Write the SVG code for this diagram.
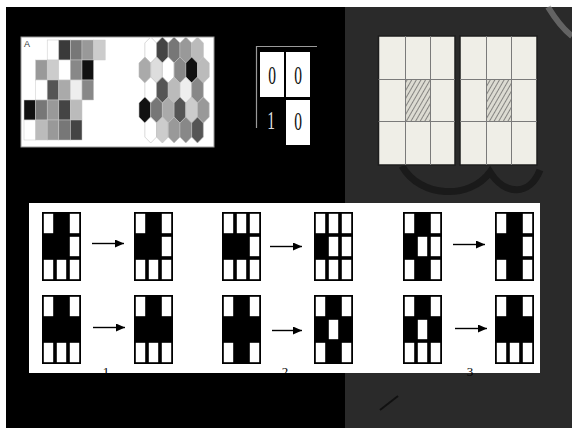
<svg xmlns="http://www.w3.org/2000/svg" xmlns:xlink="http://www.w3.org/1999/xlink" width="572" height="428" viewBox="0 0 572 428">
<style>
.sq{stroke:#c8c8c8;stroke-width:0.5}
.hx{stroke:#bdbdbd;stroke-width:0.6}
.dig{font-family:"Liberation Serif",serif;font-size:25px;text-anchor:middle}
.lbl{font-family:"Liberation Serif",serif;font-size:13px;text-anchor:middle;fill:#000}
.gl{stroke:#7a7a7a;stroke-width:1;fill:none}
.arr{stroke:#000;stroke-width:1.4;fill:none}
</style>
<defs>
<rect id="wc" width="9.4" height="19.4" fill="#fff"/>
<rect id="frame" width="39" height="69" fill="#000"/>
<polygon id="hex" points="0,-13 5.85,-7 5.85,7 0,13 -5.85,7 -5.85,-7"/>
<pattern id="hatch" width="4" height="4" patternUnits="userSpaceOnUse" patternTransform="rotate(30)">
<rect width="4" height="4" fill="#dcdbd2"/>
<line x1="0" y1="0" x2="0" y2="4" stroke="#555" stroke-width="1.3"/>
</pattern>
<marker id="ah" markerUnits="userSpaceOnUse" markerWidth="9" markerHeight="8" refX="9" refY="4" orient="auto">
<path d="M0,0 L9,4 L0,8 Z" fill="#000"/>
</marker>
</defs>

<!-- background -->
<rect x="0" y="0" width="572" height="428" fill="#fff"/>
<rect x="6" y="7" width="339" height="421" fill="#000"/>
<rect x="345" y="7" width="227" height="421" fill="#2a2a2a"/>
<g id="watermark" fill="none">
<path d="M548,7 C556,20 564,30 572,36" stroke="#8a8a8a" stroke-width="6" opacity="0.6"/>
<path d="M402,166 C420,198 470,200 490,172 C505,196 530,196 540,170" stroke="#1a1a1a" stroke-width="7"/>
<path d="M380,410 L398,396" stroke="#111" stroke-width="2"/>
</g>

<!-- Panel A -->
<g id="panel-a">
<rect x="21" y="37" width="193" height="110" fill="#fff" stroke="#999" stroke-width="1"/>
<text x="24" y="47" font-family="Liberation Sans, sans-serif" font-size="9" fill="#333">A</text>
<g id="squares">
<rect class="sq" x="47.2" y="40" width="11.6" height="20" fill="#fff"/>
<rect class="sq" x="58.8" y="40" width="11.6" height="20" fill="#3a3a3a"/>
<rect class="sq" x="70.4" y="40" width="11.6" height="20" fill="#777"/>
<rect class="sq" x="82" y="40" width="11.6" height="20" fill="#999"/>
<rect class="sq" x="93.6" y="40" width="11.6" height="20" fill="#ccc"/>

<rect class="sq" x="35.6" y="60" width="11.6" height="20" fill="#999"/>
<rect class="sq" x="47.2" y="60" width="11.6" height="20" fill="#ccc"/>
<rect class="sq" x="58.8" y="60" width="11.6" height="20" fill="#fff"/>
<rect class="sq" x="70.4" y="60" width="11.6" height="20" fill="#888"/>
<rect class="sq" x="82" y="60" width="11.6" height="20" fill="#111"/>

<rect class="sq" x="35.6" y="80" width="11.6" height="20" fill="#fff"/>
<rect class="sq" x="47.2" y="80" width="11.6" height="20" fill="#555"/>
<rect class="sq" x="58.8" y="80" width="11.6" height="20" fill="#aaa"/>
<rect class="sq" x="70.4" y="80" width="11.6" height="20" fill="#eee"/>
<rect class="sq" x="82" y="80" width="11.6" height="20" fill="#888"/>

<rect class="sq" x="24" y="100" width="11.6" height="20" fill="#111"/>
<rect class="sq" x="35.6" y="100" width="11.6" height="20" fill="#777"/>
<rect class="sq" x="47.2" y="100" width="11.6" height="20" fill="#999"/>
<rect class="sq" x="58.8" y="100" width="11.6" height="20" fill="#444"/>
<rect class="sq" x="70.4" y="100" width="11.6" height="20" fill="#bbb"/>

<rect class="sq" x="24" y="120" width="11.6" height="20" fill="#fff"/>
<rect class="sq" x="35.6" y="120" width="11.6" height="20" fill="#bbb"/>
<rect class="sq" x="47.2" y="120" width="11.6" height="20" fill="#999"/>
<rect class="sq" x="58.8" y="120" width="11.6" height="20" fill="#777"/>
<rect class="sq" x="70.4" y="120" width="11.6" height="20" fill="#444"/>
</g>
<g id="hexes">
<use href="#hex" class="hx" x="150.7" y="50" fill="#fff"/>
<use href="#hex" class="hx" x="162.4" y="50" fill="#444"/>
<use href="#hex" class="hx" x="174.1" y="50" fill="#777"/>
<use href="#hex" class="hx" x="185.8" y="50" fill="#999"/>
<use href="#hex" class="hx" x="197.5" y="50" fill="#bbb"/>

<use href="#hex" class="hx" x="144.85" y="70" fill="#aaa"/>
<use href="#hex" class="hx" x="156.55" y="70" fill="#ddd"/>
<use href="#hex" class="hx" x="168.25" y="70" fill="#fff"/>
<use href="#hex" class="hx" x="179.95" y="70" fill="#888"/>
<use href="#hex" class="hx" x="191.65" y="70" fill="#111"/>
<use href="#hex" class="hx" x="203.35" y="70" fill="#bbb"/>

<use href="#hex" class="hx" x="150.7" y="90" fill="#fff"/>
<use href="#hex" class="hx" x="162.4" y="90" fill="#555"/>
<use href="#hex" class="hx" x="174.1" y="90" fill="#bbb"/>
<use href="#hex" class="hx" x="185.8" y="90" fill="#eee"/>
<use href="#hex" class="hx" x="197.5" y="90" fill="#888"/>

<use href="#hex" class="hx" x="144.85" y="110" fill="#111"/>
<use href="#hex" class="hx" x="156.55" y="110" fill="#777"/>
<use href="#hex" class="hx" x="168.25" y="110" fill="#aaa"/>
<use href="#hex" class="hx" x="179.95" y="110" fill="#555"/>
<use href="#hex" class="hx" x="191.65" y="110" fill="#ccc"/>
<use href="#hex" class="hx" x="203.35" y="110" fill="#999"/>

<use href="#hex" class="hx" x="150.7" y="130" fill="#fff"/>
<use href="#hex" class="hx" x="162.4" y="130" fill="#ccc"/>
<use href="#hex" class="hx" x="174.1" y="130" fill="#999"/>
<use href="#hex" class="hx" x="185.8" y="130" fill="#888"/>
<use href="#hex" class="hx" x="197.5" y="130" fill="#555"/>
</g>
</g>

<!-- binary 2x2 -->
<g id="binary-grid">
<path d="M256.5,128 V46.5 H317" stroke="#9a9a9a" stroke-width="1.2" fill="none"/>
<rect x="260" y="52" width="24" height="45" fill="#fff"/>
<rect x="286" y="52" width="24" height="45" fill="#fff"/>
<rect x="286" y="100" width="24" height="45" fill="#fff"/>
<text class="dig" transform="translate(272,83.5) scale(0.62,1)" fill="#111">0</text>
<text class="dig" transform="translate(298,83.5) scale(0.62,1)" fill="#111">0</text>
<text class="dig" transform="translate(271,128.5) scale(0.62,1)" fill="#ddd">1</text>
<text class="dig" transform="translate(298,130) scale(0.62,1)" fill="#111">0</text>
</g>

<!-- hatched 3x3 panels -->
<g id="panel-left">
<rect x="378.5" y="36" width="76.5" height="129" fill="#efeee7" stroke="#1e1e1e" stroke-width="1.5"/>
<rect x="405.5" y="79.5" width="25" height="42" fill="url(#hatch)"/>
<path class="gl" d="M405.5,36 V165 M430.5,36 V165 M378.5,79.5 H455 M378.5,121.5 H455"/>
</g>
<g id="panel-right">
<rect x="460" y="36" width="77" height="129" fill="#efeee7" stroke="#1e1e1e" stroke-width="1.5"/>
<rect x="486.5" y="79.5" width="25" height="42" fill="url(#hatch)"/>
<path class="gl" d="M486.5,36 V165 M511.5,36 V165 M460,79.5 H537 M460,121.5 H537"/>
</g>

<!-- bottom panel -->
<g id="rules-panel">
<rect x="29" y="203" width="511" height="170" fill="#fff"/>
</g>

<g id="grid-1a-in" transform="translate(42,212)">
<use href="#frame"/>
<use href="#wc" x="1.8" y="1.8"/><use href="#wc" x="27.8" y="1.8"/>
<use href="#wc" x="27.8" y="24.8"/>
<use href="#wc" x="1.8" y="47.8"/><use href="#wc" x="14.8" y="47.8"/><use href="#wc" x="27.8" y="47.8"/>
</g>
<g id="grid-1a-out" transform="translate(134,212)">
<use href="#frame"/>
<use href="#wc" x="1.8" y="1.8"/><use href="#wc" x="27.8" y="1.8"/>
<use href="#wc" x="27.8" y="24.8"/>
<use href="#wc" x="1.8" y="47.8"/><use href="#wc" x="14.8" y="47.8"/><use href="#wc" x="27.8" y="47.8"/>
</g>
<g id="grid-1b-in" transform="translate(42,295)">
<use href="#frame"/>
<use href="#wc" x="1.8" y="1.8"/><use href="#wc" x="27.8" y="1.8"/>
<use href="#wc" x="1.8" y="47.8"/><use href="#wc" x="14.8" y="47.8"/><use href="#wc" x="27.8" y="47.8"/>
</g>
<g id="grid-1b-out" transform="translate(134,295)">
<use href="#frame"/>
<use href="#wc" x="1.8" y="1.8"/><use href="#wc" x="27.8" y="1.8"/>
<use href="#wc" x="1.8" y="47.8"/><use href="#wc" x="14.8" y="47.8"/><use href="#wc" x="27.8" y="47.8"/>
</g>

<g id="grid-2a-in" transform="translate(222,212)">
<use href="#frame"/>
<use href="#wc" x="1.8" y="1.8"/><use href="#wc" x="14.8" y="1.8"/><use href="#wc" x="27.8" y="1.8"/>
<use href="#wc" x="27.8" y="24.8"/>
<use href="#wc" x="1.8" y="47.8"/><use href="#wc" x="14.8" y="47.8"/><use href="#wc" x="27.8" y="47.8"/>
</g>
<g id="grid-2a-out" transform="translate(314,212)">
<use href="#frame"/>
<use href="#wc" x="1.8" y="1.8"/><use href="#wc" x="14.8" y="1.8"/><use href="#wc" x="27.8" y="1.8"/>
<use href="#wc" x="14.8" y="24.8"/><use href="#wc" x="27.8" y="24.8"/>
<use href="#wc" x="1.8" y="47.8"/><use href="#wc" x="14.8" y="47.8"/><use href="#wc" x="27.8" y="47.8"/>
</g>
<g id="grid-2b-in" transform="translate(222,295)">
<use href="#frame"/>
<use href="#wc" x="1.8" y="1.8"/><use href="#wc" x="27.8" y="1.8"/>
<use href="#wc" x="1.8" y="47.8"/><use href="#wc" x="27.8" y="47.8"/>
</g>
<g id="grid-2b-out" transform="translate(314,295)">
<use href="#frame"/>
<use href="#wc" x="1.8" y="1.8"/><use href="#wc" x="27.8" y="1.8"/>
<use href="#wc" x="14.8" y="24.8"/>
<use href="#wc" x="1.8" y="47.8"/><use href="#wc" x="27.8" y="47.8"/>
</g>

<g id="grid-3a-in" transform="translate(403,212)">
<use href="#frame"/>
<use href="#wc" x="1.8" y="1.8"/><use href="#wc" x="27.8" y="1.8"/>
<use href="#wc" x="14.8" y="24.8"/><use href="#wc" x="27.8" y="24.8"/>
<use href="#wc" x="1.8" y="47.8"/><use href="#wc" x="27.8" y="47.8"/>
</g>
<g id="grid-3a-out" transform="translate(495,212)">
<use href="#frame"/>
<use href="#wc" x="1.8" y="1.8"/><use href="#wc" x="27.8" y="1.8"/>
<use href="#wc" x="27.8" y="24.8"/>
<use href="#wc" x="1.8" y="47.8"/><use href="#wc" x="27.8" y="47.8"/>
</g>
<g id="grid-3b-in" transform="translate(403,295)">
<use href="#frame"/>
<use href="#wc" x="1.8" y="1.8"/><use href="#wc" x="27.8" y="1.8"/>
<use href="#wc" x="14.8" y="24.8"/>
<use href="#wc" x="1.8" y="47.8"/><use href="#wc" x="14.8" y="47.8"/><use href="#wc" x="27.8" y="47.8"/>
</g>
<g id="grid-3b-out" transform="translate(495,295)">
<use href="#frame"/>
<use href="#wc" x="1.8" y="1.8"/><use href="#wc" x="27.8" y="1.8"/>
<use href="#wc" x="1.8" y="47.8"/><use href="#wc" x="14.8" y="47.8"/><use href="#wc" x="27.8" y="47.8"/>
</g>

<g id="connectors">
<line class="arr" x1="92" y1="243.5" x2="124" y2="243.5" marker-end="url(#ah)"/>
<line class="arr" x1="93" y1="327.5" x2="125" y2="327.5" marker-end="url(#ah)"/>
<line class="arr" x1="270" y1="246.5" x2="302" y2="246.5" marker-end="url(#ah)"/>
<line class="arr" x1="272" y1="330.5" x2="302" y2="330.5" marker-end="url(#ah)"/>
<line class="arr" x1="453" y1="244.5" x2="485" y2="244.5" marker-end="url(#ah)"/>
<line class="arr" x1="455" y1="328.5" x2="487" y2="328.5" marker-end="url(#ah)"/>
</g>

<g id="labels">
<text class="lbl" x="106" y="376">1</text>
<text class="lbl" x="285" y="376">2</text>
<text class="lbl" x="470" y="376">3</text>
</g>
</svg>
